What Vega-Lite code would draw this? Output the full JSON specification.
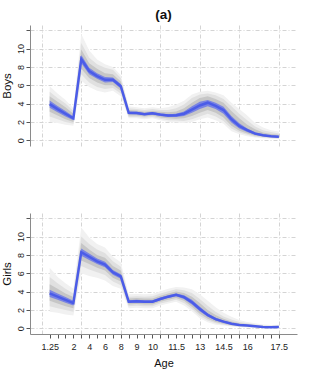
{
  "$schema": "https://vega.github.io/schema/vega-lite/v6.json",
  "padding": {"left": 1, "top": 7, "right": 5, "bottom": 2},
  "background": "white",
  "title": {"text": "(a)", "fontSize": 13.5, "fontWeight": "bold", "font": "Liberation Sans", "color": "#111", "anchor": "middle", "frame": "group", "offset": 4},
  "config": {
    "view": {"stroke": null},
    "font": "Liberation Sans",
    "axis": {"labelFont": "Liberation Sans", "titleFont": "Liberation Sans", "labelFontSize": 9, "labelColor": "#222", "titleColor": "#111", "titleFontWeight": "normal", "titleFontSize": 11.5, "domainColor": "#8a8a8a", "tickColor": "#555", "tickSize": 4, "gridColor": "#d4d4d4", "gridDash": [4, 2, 1, 2], "gridWidth": 1, "labelOverlap": false},
    "axisY": {"labelOverlap": false, "labelAngle": 270, "labelAlign": "center", "labelBaseline": "bottom"}
  },
  "data": {"values": [
    {"sex":"Boys","i":1,"m":3.95,"b1":3.55,"b2":4.35,"g1a":3.1,"g1b":4.8,"g2a":2.6,"g2b":5.3,"g3a":2.0,"g3b":5.9},
    {"sex":"Boys","i":2,"m":3.4,"b1":3.05,"b2":3.75,"g1a":2.7,"g1b":4.2,"g2a":2.3,"g2b":4.6,"g3a":1.9,"g3b":5.1},
    {"sex":"Boys","i":3,"m":2.9,"b1":2.6,"b2":3.2,"g1a":2.3,"g1b":3.6,"g2a":2.0,"g2b":4.0,"g3a":1.7,"g3b":4.4},
    {"sex":"Boys","i":4,"m":2.4,"b1":2.2,"b2":2.6,"g1a":2.0,"g1b":2.9,"g2a":1.8,"g2b":3.2,"g3a":1.6,"g3b":3.5},
    {"sex":"Boys","i":5,"m":8.85,"b1":8.4,"b2":9.3,"g1a":7.8,"g1b":9.9,"g2a":7.2,"g2b":10.6,"g3a":6.5,"g3b":11.6},
    {"sex":"Boys","i":6,"m":7.55,"b1":7.2,"b2":7.9,"g1a":6.8,"g1b":8.4,"g2a":6.3,"g2b":9.0,"g3a":5.8,"g3b":9.8},
    {"sex":"Boys","i":7,"m":7.0,"b1":6.7,"b2":7.3,"g1a":6.3,"g1b":7.8,"g2a":5.8,"g2b":8.3,"g3a":5.4,"g3b":8.8},
    {"sex":"Boys","i":8,"m":6.6,"b1":6.3,"b2":6.9,"g1a":6.0,"g1b":7.3,"g2a":5.6,"g2b":7.9,"g3a":5.2,"g3b":8.3},
    {"sex":"Boys","i":9,"m":6.6,"b1":6.35,"b2":6.85,"g1a":6.0,"g1b":7.2,"g2a":5.7,"g2b":7.7,"g3a":5.4,"g3b":8.0},
    {"sex":"Boys","i":10,"m":5.9,"b1":5.65,"b2":6.15,"g1a":5.4,"g1b":6.4,"g2a":5.1,"g2b":6.8,"g3a":4.8,"g3b":7.1},
    {"sex":"Boys","i":11,"m":3.0,"b1":2.85,"b2":3.15,"g1a":2.7,"g1b":3.3,"g2a":2.55,"g2b":3.5,"g3a":2.4,"g3b":3.7},
    {"sex":"Boys","i":12,"m":2.98,"b1":2.85,"b2":3.1,"g1a":2.7,"g1b":3.25,"g2a":2.55,"g2b":3.4,"g3a":2.4,"g3b":3.6},
    {"sex":"Boys","i":13,"m":2.85,"b1":2.72,"b2":2.98,"g1a":2.6,"g1b":3.1,"g2a":2.45,"g2b":3.3,"g3a":2.3,"g3b":3.5},
    {"sex":"Boys","i":14,"m":2.95,"b1":2.82,"b2":3.08,"g1a":2.7,"g1b":3.2,"g2a":2.55,"g2b":3.4,"g3a":2.4,"g3b":3.6},
    {"sex":"Boys","i":15,"m":2.8,"b1":2.66,"b2":2.94,"g1a":2.5,"g1b":3.1,"g2a":2.35,"g2b":3.3,"g3a":2.2,"g3b":3.5},
    {"sex":"Boys","i":16,"m":2.7,"b1":2.55,"b2":2.85,"g1a":2.4,"g1b":3.05,"g2a":2.2,"g2b":3.3,"g3a":2.0,"g3b":3.6},
    {"sex":"Boys","i":17,"m":2.73,"b1":2.55,"b2":2.9,"g1a":2.35,"g1b":3.15,"g2a":2.15,"g2b":3.5,"g3a":1.95,"g3b":3.9},
    {"sex":"Boys","i":18,"m":2.9,"b1":2.65,"b2":3.15,"g1a":2.4,"g1b":3.5,"g2a":2.1,"g2b":3.9,"g3a":1.9,"g3b":4.3},
    {"sex":"Boys","i":19,"m":3.35,"b1":3.0,"b2":3.7,"g1a":2.65,"g1b":4.1,"g2a":2.3,"g2b":4.6,"g3a":2.0,"g3b":5.0},
    {"sex":"Boys","i":20,"m":3.8,"b1":3.4,"b2":4.2,"g1a":3.0,"g1b":4.6,"g2a":2.6,"g2b":5.0,"g3a":2.3,"g3b":5.3},
    {"sex":"Boys","i":21,"m":4.1,"b1":3.7,"b2":4.4,"g1a":3.3,"g1b":4.8,"g2a":2.9,"g2b":5.1,"g3a":2.5,"g3b":5.4},
    {"sex":"Boys","i":22,"m":3.75,"b1":3.4,"b2":4.1,"g1a":3.0,"g1b":4.5,"g2a":2.6,"g2b":4.9,"g3a":2.2,"g3b":5.2},
    {"sex":"Boys","i":23,"m":3.3,"b1":2.9,"b2":3.65,"g1a":2.5,"g1b":4.1,"g2a":2.1,"g2b":4.5,"g3a":1.8,"g3b":4.9},
    {"sex":"Boys","i":24,"m":2.3,"b1":1.95,"b2":2.65,"g1a":1.6,"g1b":3.2,"g2a":1.3,"g2b":3.7,"g3a":1.0,"g3b":4.1},
    {"sex":"Boys","i":25,"m":1.56,"b1":1.3,"b2":1.85,"g1a":1.05,"g1b":2.4,"g2a":0.85,"g2b":2.9,"g3a":0.65,"g3b":3.4},
    {"sex":"Boys","i":26,"m":1.1,"b1":0.9,"b2":1.3,"g1a":0.75,"g1b":1.7,"g2a":0.6,"g2b":2.2,"g3a":0.45,"g3b":2.7},
    {"sex":"Boys","i":27,"m":0.73,"b1":0.6,"b2":0.88,"g1a":0.5,"g1b":1.2,"g2a":0.4,"g2b":1.5,"g3a":0.3,"g3b":1.9},
    {"sex":"Boys","i":28,"m":0.55,"b1":0.45,"b2":0.66,"g1a":0.38,"g1b":0.85,"g2a":0.3,"g2b":1.1,"g3a":0.22,"g3b":1.4},
    {"sex":"Boys","i":29,"m":0.44,"b1":0.36,"b2":0.53,"g1a":0.3,"g1b":0.7,"g2a":0.24,"g2b":0.9,"g3a":0.18,"g3b":1.1},
    {"sex":"Boys","i":30,"m":0.4,"b1":0.32,"b2":0.48,"g1a":0.26,"g1b":0.6,"g2a":0.2,"g2b":0.75,"g3a":0.15,"g3b":0.95},
    {"sex":"Girls","i":1,"m":3.8,"b1":3.4,"b2":4.2,"g1a":3.0,"g1b":4.8,"g2a":2.4,"g2b":5.6,"g3a":1.8,"g3b":6.6},
    {"sex":"Girls","i":2,"m":3.45,"b1":3.1,"b2":3.8,"g1a":2.7,"g1b":4.3,"g2a":2.2,"g2b":4.9,"g3a":1.7,"g3b":5.6},
    {"sex":"Girls","i":3,"m":3.1,"b1":2.8,"b2":3.4,"g1a":2.4,"g1b":3.8,"g2a":2.0,"g2b":4.3,"g3a":1.5,"g3b":4.9},
    {"sex":"Girls","i":4,"m":2.75,"b1":2.5,"b2":3.0,"g1a":2.2,"g1b":3.4,"g2a":1.8,"g2b":3.8,"g3a":1.4,"g3b":4.3},
    {"sex":"Girls","i":5,"m":8.3,"b1":7.9,"b2":8.7,"g1a":7.4,"g1b":9.3,"g2a":6.8,"g2b":10.0,"g3a":6.0,"g3b":11.0},
    {"sex":"Girls","i":6,"m":7.8,"b1":7.45,"b2":8.15,"g1a":7.0,"g1b":8.6,"g2a":6.4,"g2b":9.2,"g3a":5.7,"g3b":9.9},
    {"sex":"Girls","i":7,"m":7.3,"b1":7.0,"b2":7.6,"g1a":6.6,"g1b":8.0,"g2a":6.1,"g2b":8.6,"g3a":5.5,"g3b":9.2},
    {"sex":"Girls","i":8,"m":6.95,"b1":6.65,"b2":7.25,"g1a":6.3,"g1b":7.7,"g2a":5.8,"g2b":8.2,"g3a":5.2,"g3b":8.8},
    {"sex":"Girls","i":9,"m":6.1,"b1":5.85,"b2":6.35,"g1a":5.5,"g1b":6.8,"g2a":5.1,"g2b":7.3,"g3a":4.6,"g3b":7.8},
    {"sex":"Girls","i":10,"m":5.65,"b1":5.4,"b2":5.9,"g1a":5.1,"g1b":6.3,"g2a":4.7,"g2b":6.7,"g3a":4.3,"g3b":7.2},
    {"sex":"Girls","i":11,"m":2.9,"b1":2.75,"b2":3.05,"g1a":2.6,"g1b":3.25,"g2a":2.4,"g2b":3.45,"g3a":2.2,"g3b":3.7},
    {"sex":"Girls","i":12,"m":2.95,"b1":2.8,"b2":3.1,"g1a":2.65,"g1b":3.3,"g2a":2.45,"g2b":3.5,"g3a":2.25,"g3b":3.75},
    {"sex":"Girls","i":13,"m":2.9,"b1":2.75,"b2":3.05,"g1a":2.6,"g1b":3.25,"g2a":2.4,"g2b":3.45,"g3a":2.2,"g3b":3.7},
    {"sex":"Girls","i":14,"m":2.9,"b1":2.75,"b2":3.05,"g1a":2.6,"g1b":3.25,"g2a":2.4,"g2b":3.5,"g3a":2.2,"g3b":3.75},
    {"sex":"Girls","i":15,"m":3.2,"b1":3.05,"b2":3.35,"g1a":2.9,"g1b":3.55,"g2a":2.7,"g2b":3.8,"g3a":2.5,"g3b":4.05},
    {"sex":"Girls","i":16,"m":3.45,"b1":3.3,"b2":3.6,"g1a":3.1,"g1b":3.8,"g2a":2.9,"g2b":4.05,"g3a":2.7,"g3b":4.3},
    {"sex":"Girls","i":17,"m":3.65,"b1":3.5,"b2":3.8,"g1a":3.3,"g1b":4.0,"g2a":3.1,"g2b":4.25,"g3a":2.9,"g3b":4.5},
    {"sex":"Girls","i":18,"m":3.4,"b1":3.2,"b2":3.6,"g1a":3.0,"g1b":3.85,"g2a":2.75,"g2b":4.15,"g3a":2.5,"g3b":4.45},
    {"sex":"Girls","i":19,"m":2.85,"b1":2.6,"b2":3.1,"g1a":2.35,"g1b":3.45,"g2a":2.1,"g2b":3.85,"g3a":1.85,"g3b":4.25},
    {"sex":"Girls","i":20,"m":2.1,"b1":1.85,"b2":2.35,"g1a":1.6,"g1b":2.75,"g2a":1.35,"g2b":3.2,"g3a":1.1,"g3b":3.7},
    {"sex":"Girls","i":21,"m":1.45,"b1":1.25,"b2":1.65,"g1a":1.05,"g1b":2.0,"g2a":0.85,"g2b":2.45,"g3a":0.65,"g3b":3.0},
    {"sex":"Girls","i":22,"m":1.0,"b1":0.85,"b2":1.15,"g1a":0.7,"g1b":1.45,"g2a":0.55,"g2b":1.8,"g3a":0.4,"g3b":2.3},
    {"sex":"Girls","i":23,"m":0.73,"b1":0.62,"b2":0.85,"g1a":0.5,"g1b":1.05,"g2a":0.4,"g2b":1.3,"g3a":0.3,"g3b":1.7},
    {"sex":"Girls","i":24,"m":0.5,"b1":0.42,"b2":0.6,"g1a":0.34,"g1b":0.75,"g2a":0.27,"g2b":0.95,"g3a":0.2,"g3b":1.25},
    {"sex":"Girls","i":25,"m":0.36,"b1":0.3,"b2":0.43,"g1a":0.24,"g1b":0.55,"g2a":0.18,"g2b":0.7,"g3a":0.13,"g3b":0.9},
    {"sex":"Girls","i":26,"m":0.3,"b1":0.25,"b2":0.36,"g1a":0.2,"g1b":0.45,"g2a":0.15,"g2b":0.55,"g3a":0.1,"g3b":0.7},
    {"sex":"Girls","i":27,"m":0.22,"b1":0.18,"b2":0.27,"g1a":0.14,"g1b":0.34,"g2a":0.1,"g2b":0.42,"g3a":0.07,"g3b":0.55},
    {"sex":"Girls","i":28,"m":0.15,"b1":0.12,"b2":0.19,"g1a":0.09,"g1b":0.25,"g2a":0.06,"g2b":0.32,"g3a":0.04,"g3b":0.42},
    {"sex":"Girls","i":29,"m":0.12,"b1":0.09,"b2":0.16,"g1a":0.07,"g1b":0.22,"g2a":0.05,"g2b":0.28,"g3a":0.03,"g3b":0.36},
    {"sex":"Girls","i":30,"m":0.15,"b1":0.11,"b2":0.19,"g1a":0.08,"g1b":0.25,"g2a":0.05,"g2b":0.3,"g3a":0.03,"g3b":0.38}
  ]},
  "spacing": 67,
  "vconcat": [
    {
      "width": 267, "height": 121,
      "transform": [{"filter": "datum.sex === 'Boys'"}],
      "encoding": {
        "x": {"field": "i", "type": "quantitative", "scale": {"domain": [-1.49, 32.3], "nice": false, "zero": false},
          "axis": {"values": [0, 5, 10, 15, 20, 25, 30], "labels": false, "ticks": false, "domain": false, "grid": true, "title": null}},
        "y": {"type": "quantitative", "title": "Boys", "scale": {"domain": [-0.62, 12.57], "nice": false, "zero": false},
          "axis": {"values": [0, 2, 4, 6, 8, 10, 12], "labelExpr": "datum.value == 12 ? '' : datum.label", "labelPadding": 1, "labelOverlap": false, "titlePadding": 4, "grid": true}}
      },
      "layer": [
        {"mark": {"type": "area", "color": "#f1f1f1"}, "encoding": {"y": {"field": "g3a", "type": "quantitative"}, "y2": {"field": "g3b"}}},
        {"mark": {"type": "area", "color": "#e0e0e0"}, "encoding": {"y": {"field": "g2a", "type": "quantitative"}, "y2": {"field": "g2b"}}},
        {"mark": {"type": "area", "color": "#c6c6c6"}, "encoding": {"y": {"field": "g1a", "type": "quantitative"}, "y2": {"field": "g1b"}}},
        {"mark": {"type": "area", "color": "#717ce6", "opacity": 0.9}, "encoding": {"y": {"field": "b1", "type": "quantitative"}, "y2": {"field": "b2"}}},
        {"mark": {"type": "line", "color": "#4b5ce8", "strokeWidth": 2.5}, "encoding": {"y": {"field": "m", "type": "quantitative"}}}
      ]
    },
    {
      "width": 267, "height": 121,
      "transform": [{"filter": "datum.sex === 'Girls'"}],
      "encoding": {
        "x": {"field": "i", "type": "quantitative", "title": "Age", "scale": {"domain": [-1.49, 32.3], "nice": false, "zero": false},
          "axis": {"values": [0, 1, 2, 3, 4, 5, 6, 7, 8, 9, 10, 11, 12, 13, 14, 15, 16, 17, 18, 19, 20, 21, 22, 23, 24, 25, 26, 27, 28, 29, 30],
            "labelExpr": "['','1.25','','','2','','4','','6','','8','','9','','10','','','11.5','','','13','','','14.5','','','16','','','','17.5'][datum.value]",
            "grid": true, "gridOpacity": {"condition": {"test": "datum.value % 5 == 0", "value": 1}, "value": 0},
            "tickOpacity": {"condition": {"test": "datum.value == 0", "value": 0}, "value": 1},
            "labelPadding": 4, "titlePadding": 6, "labelFlush": false, "labelOverlap": false, "titleFontSize": 11}},
        "y": {"type": "quantitative", "title": "Girls", "scale": {"domain": [-0.62, 12.57], "nice": false, "zero": false},
          "axis": {"values": [0, 2, 4, 6, 8, 10, 12], "labelExpr": "datum.value == 12 ? '' : datum.label", "labelPadding": 1, "labelOverlap": false, "titlePadding": 4, "grid": true}}
      },
      "layer": [
        {"mark": {"type": "area", "color": "#f1f1f1"}, "encoding": {"y": {"field": "g3a", "type": "quantitative"}, "y2": {"field": "g3b"}}},
        {"mark": {"type": "area", "color": "#e0e0e0"}, "encoding": {"y": {"field": "g2a", "type": "quantitative"}, "y2": {"field": "g2b"}}},
        {"mark": {"type": "area", "color": "#c6c6c6"}, "encoding": {"y": {"field": "g1a", "type": "quantitative"}, "y2": {"field": "g1b"}}},
        {"mark": {"type": "area", "color": "#717ce6", "opacity": 0.9}, "encoding": {"y": {"field": "b1", "type": "quantitative"}, "y2": {"field": "b2"}}},
        {"mark": {"type": "line", "color": "#4b5ce8", "strokeWidth": 2.5}, "encoding": {"y": {"field": "m", "type": "quantitative"}}}
      ]
    }
  ]
}
